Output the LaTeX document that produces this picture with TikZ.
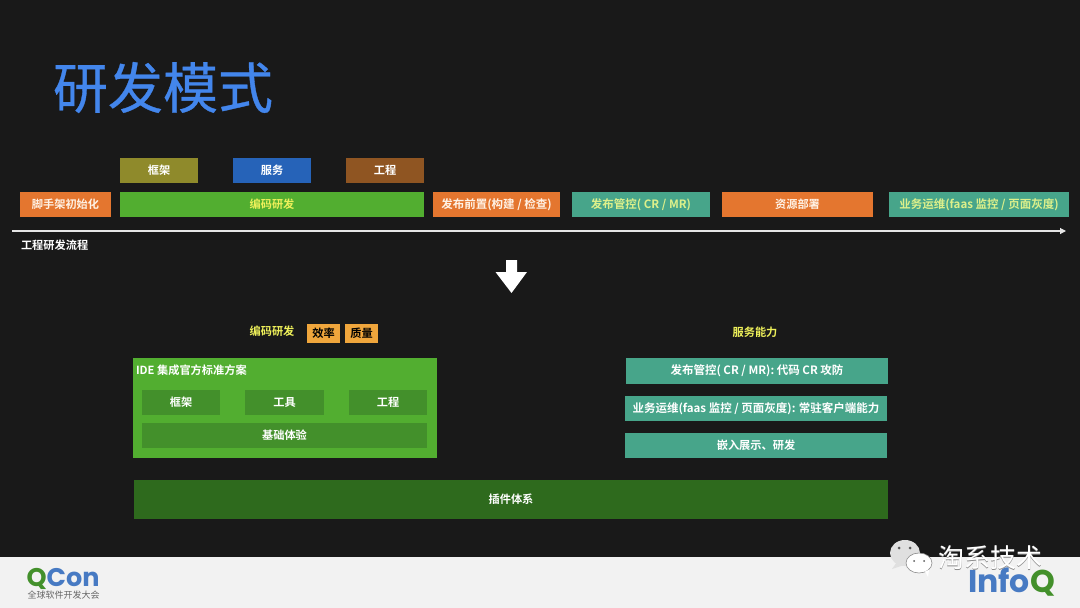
\documentclass[tikz,border=0pt]{standalone}
\usepackage{fontspec}
\setmainfont{Noto Sans CJK SC}[BoldFont={* Bold}]
\newfontfamily\titlefont{Noto Sans CJK SC}[FakeBold=0.6]
\newfontfamily\logofont{Poppins}[BoldFont={* Bold}]
\usetikzlibrary{arrows.meta,calc}
\definecolor{bgc}{HTML}{191919}
\definecolor{foot}{HTML}{F2F2F2}
\definecolor{titleb}{HTML}{4386EC}
\definecolor{orangeb}{HTML}{E4762F}
\definecolor{greenb}{HTML}{52AE30}
\definecolor{greend}{HTML}{43902B}
\definecolor{greenx}{HTML}{2E6A1D}
\definecolor{tealb}{HTML}{47A58A}
\definecolor{oliveb}{HTML}{8F8A2B}
\definecolor{blueb}{HTML}{2663B8}
\definecolor{brownb}{HTML}{8F5522}
\definecolor{amberb}{HTML}{F0A63C}
\definecolor{yel}{HTML}{EEF05A}
\definecolor{lyel}{HTML}{DDF08A}
\newcommand{\mx}{\fontsize{11.5}{13}\selectfont}
\tikzset{
  lbl/.style={inner sep=0pt,outer sep=0pt,font=\fontsize{11.2}{13}\selectfont\bfseries,text=white},
}
\newcommand{\bx}[7]{% name, x0, y0, x1, y1, fill, text
  \path[fill=#6] (#2,#3) rectangle (#4,#5);
  \node[lbl] (#1) at ({(#2+#4)/2},{(#3+#5)/2}) {#7};}
\begin{document}
\begin{tikzpicture}[x=1pt,y=-1pt]
\useasboundingbox (0,0) rectangle (1080,608);
\fill[bgc] (0,0) rectangle (1080,608);
\fill[foot] (0,557) rectangle (1080,608);
\node[inner sep=0pt,text=titleb,anchor=center] (title) at (163,87.5) {\titlefont\fontsize{55}{60}\selectfont 研发模式};
% top row
\bx{t1}{120}{158}{198}{183}{oliveb}{框架}
\bx{t2}{233}{158}{311}{183}{blueb}{服务}
\bx{t3}{346}{158}{424}{183}{brownb}{工程}
\bx{r1}{20}{192}{111}{217}{orangeb}{\textcolor{white!90!orange}{脚手架初始化}}
\bx{r2}{120}{192}{424}{217}{greenb}{\textcolor{yel}{编码研发}}
\bx{r3}{433}{192}{560}{217}{orangeb}{\mx\textcolor{white!90!orange}{发布前置(构建 / 检查)}}
\bx{r4}{572}{192}{710}{217}{tealb}{\mx\textcolor{lyel}{发布管控( CR / MR)}}
\bx{r5}{722}{192}{873}{217}{orangeb}{\textcolor{white!90!orange}{资源部署}}
\bx{r6}{889}{192}{1069}{217}{tealb}{\mx\textcolor{lyel}{业务运维(faas 监控 / 页面灰度)}}
\coordinate (a0) at (12,231);
\coordinate (a1) at (1066,231);
\draw[white!90!black,line width=1.1pt,-{Triangle[length=6pt,width=6pt]}] (a0) -- (a1);
\node[lbl,anchor=west] (flow) at (21,245) {工程研发流程};
% block arrow
\fill[white] (506,260) -- (517,260) -- (517,272) -- (527,272) -- (511.5,293) -- (495.5,272) -- (506,272) -- cycle;
% left panel
\node[lbl,text=yel] (codetitle) at (272,331.5) {编码研发};
\bx{q1}{307}{324}{340}{343}{amberb}{\textcolor{black}{效率}}
\bx{q2}{345}{324}{378}{343}{amberb}{\textcolor{black}{质量}}
\bx{panel}{133}{358}{437}{458}{greenb}{}
\node[lbl,anchor=west] (ide) at (136,370) {IDE 集成官方标准方案};
\bx{p1}{142}{390}{220}{415}{greend}{框架}
\bx{p2}{245}{390}{324}{415}{greend}{工具}
\bx{p3}{349}{390}{427}{415}{greend}{工程}
\bx{p4}{142}{423}{427}{448}{greend}{基础体验}
% right panel
\node[lbl,text=yel] (svc) at (755,332) {服务能力};
\bx{s1}{626}{358}{888}{384}{tealb}{\mx 发布管控( CR / MR): 代码 CR 攻防}
\bx{s2}{625}{396}{887}{421}{tealb}{\mx 业务运维(faas 监控 / 页面灰度): 常驻客户端能力}
\bx{s3}{625}{433}{887}{458}{tealb}{嵌入展示、研发}
\bx{plug}{134}{480}{888}{519}{greenx}{插件体系}
% footer logos
\node[inner sep=0pt,anchor=center] (qcon) at (63,578.5) {\logofont\bfseries\fontsize{25.5}{27}\selectfont\textcolor{greend}{Q}\textcolor{blueb!85!white}{Con}};
\node[inner sep=0pt,text=black!60,anchor=center] (qconsub) at (63.5,595) {\fontsize{9}{10}\selectfont 全球软件开发大会};
\node[inner sep=0pt,anchor=center] (infoq) at (1011.5,582.5) {\logofont\bfseries\fontsize{31.5}{33}\selectfont\textcolor{blueb!85!white}{Info}\textcolor{greend}{Q}};
% watermark
\fill[white!88!black] (905,553) ellipse (15 and 13);
\fill[white!88!black] (897,562) -- (892,569) -- (904,565) -- cycle;
\draw[black!45,fill=white,line width=.6pt] (919,563) ellipse (13 and 10);
\fill[white] (925,571) -- (928,577) -- (929,570) -- cycle;
\fill[black!65] (899,548) circle (1.5) (910,548) circle (1.5) (914,561) circle (1) (924,561) circle (1);
\node[inner sep=0pt,anchor=center,text=black!45] (wmshadow) at (990.6,558.6) {\fontsize{26}{28}\selectfont 淘系技术};
\node[inner sep=0pt,anchor=center,text=white] (wm) at (990,558) {\fontsize{26}{28}\selectfont 淘系技术};
\end{tikzpicture}
\end{document}
